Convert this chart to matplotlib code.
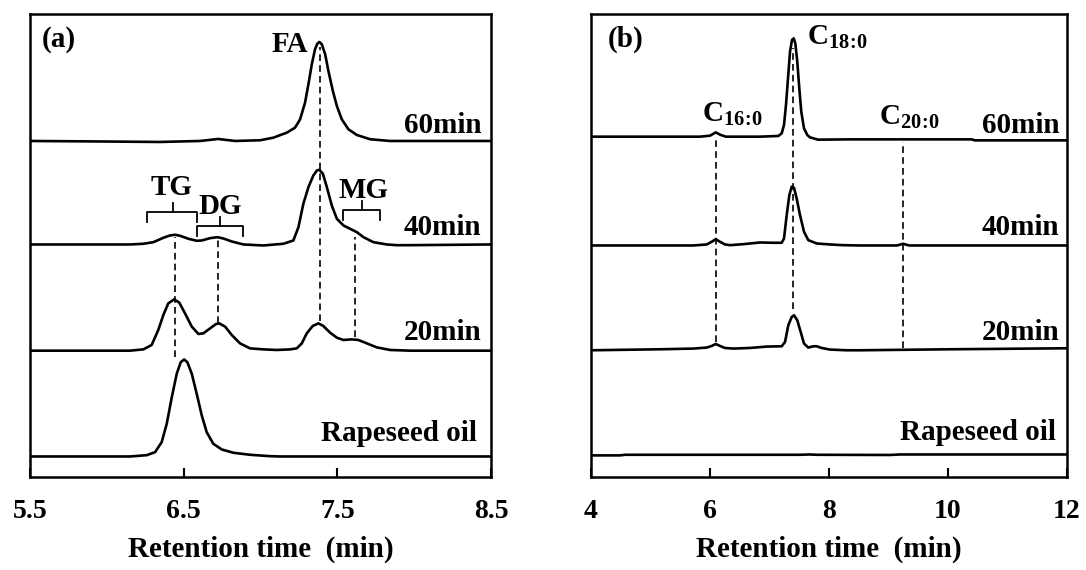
import numpy as np
import matplotlib.pyplot as plt

plt.rcParams['font.family'] = ['Liberation Serif', 'DejaVu Serif']
plt.rcParams['font.weight'] = 'bold'
plt.rcParams['axes.labelweight'] = 'bold'
plt.rcParams['mathtext.fontset'] = 'custom'
plt.rcParams['mathtext.bf'] = 'Liberation Serif:bold'
plt.rcParams['mathtext.rm'] = 'Liberation Serif:bold'
plt.rcParams['mathtext.default'] = 'bf'

# ---- panel (a): lipid classes, retention time (min) vs signal (a.u.) ----
a60_t = [5.5, 5.956, 6.346, 6.607, 6.724, 6.835, 6.997, 7.084, 7.171, 7.225, 7.258, 7.290,
         7.312, 7.334, 7.355, 7.370, 7.383, 7.399, 7.421, 7.442, 7.471, 7.497, 7.529,
         7.572, 7.627, 7.714, 7.844, 8.104, 8.5]
a60_y = [0, -0.5, -1, 0, 2, 0, 0.7, 3.3, 8.3, 13.3, 21.7, 38.3, 56.7, 76.7, 91.7, 97.3,
         99, 96.7, 86.7, 70, 50, 35, 21.7, 11.7, 6, 1.7, 0, 0, 0]

a40_t = [5.5, 6.151, 6.238, 6.303, 6.368, 6.411, 6.444, 6.477, 6.531, 6.585, 6.618, 6.672,
         6.719, 6.758, 6.813, 6.889, 7.019, 7.149, 7.214, 7.247, 7.279, 7.312, 7.344,
         7.367, 7.383, 7.406, 7.432, 7.464, 7.497, 7.540, 7.583, 7.627, 7.670, 7.735,
         7.822, 7.887, 7.974, 8.5]
a40_y = [0, 0, 0.7, 2.3, 6.7, 9, 9.7, 8.7, 5.7, 3.7, 4, 6.3, 7.3, 6, 3, 0, -1, 0.7, 4,
         17.3, 40.7, 57.3, 69, 74, 74.7, 70.7, 57.3, 39, 25.7, 19, 15.7, 12.3, 7.3, 2.3,
         0, -0.7, -0.7, 0]

a20_t = [5.5, 6.151, 6.238, 6.292, 6.335, 6.368, 6.400, 6.438, 6.472, 6.509, 6.553, 6.596,
         6.628, 6.672, 6.711, 6.732, 6.770, 6.813, 6.867, 6.932, 7.019, 7.106, 7.193,
         7.236, 7.269, 7.301, 7.340, 7.377, 7.409, 7.453, 7.497, 7.540, 7.594, 7.637,
         7.692, 7.757, 7.844, 7.974, 8.5]
a20_y = [0, 0, 1.3, 5.7, 20.7, 35.7, 47.3, 51.3, 48, 37.3, 24, 16.7, 17.3, 22.3, 26.7,
         27.3, 24, 15.7, 7.3, 2.3, 1.3, 0.7, 1.3, 2.3, 7.3, 17.3, 24.7, 27.3, 24.7, 18,
         13, 10.7, 11.3, 10.7, 7.3, 3.3, 0.7, 0, 0]

a0_t = [5.5, 6.151, 6.260, 6.314, 6.357, 6.390, 6.423, 6.455, 6.481, 6.503, 6.524, 6.553,
        6.585, 6.618, 6.650, 6.693, 6.748, 6.824, 6.932, 7.063, 7.128, 8.5]
a0_y = [0, 0, 1.3, 4.3, 14.3, 32.7, 59.3, 82.7, 94.3, 97, 94.3, 82.7, 62.7, 41, 24.3,
        12.7, 7, 3.7, 1.7, 0.3, 0, 0]

# ---- panel (b): fatty acids ----
b60_t = [4.0, 4.992, 5.832, 6.0, 6.096, 6.180, 6.269, 6.840, 7.148, 7.205, 7.244, 7.277,
         7.311, 7.345, 7.378, 7.407, 7.434, 7.467, 7.501, 7.534, 7.580, 7.635, 7.681,
         7.815, 8.353, 10.4, 10.45, 12.0]
b60_y = [0, 0, 0, 1, 4.3, 1.7, 0, 0, 0.7, 3.3, 11.7, 31.7, 58.3, 85, 96.7, 98.3, 93.3,
         75, 48.3, 25, 8.3, 1.7, -0.7, -3, -2.7, -2.7, -3.7, -3.7]

b40_t = [4.0, 5.160, 5.719, 5.945, 6.029, 6.096, 6.168, 6.252, 6.336, 6.560, 6.840, 7.064,
         7.205, 7.244, 7.289, 7.333, 7.373, 7.412, 7.457, 7.513, 7.580, 7.652, 7.793,
         8.017, 8.240, 8.521, 9.143, 9.244, 9.345, 12.0]
b40_y = [0, 0, 0, 1, 3.7, 6.3, 3.7, 1, 0.3, 1.3, 3, 2.7, 2.7, 7, 30.3, 50.3, 58.7, 57.7,
         47, 30.3, 13.7, 5.3, 2, 1, 0.3, 0, 0, 1.7, 0, 0]

b20_t = [4.0, 5.160, 5.719, 5.945, 6.029, 6.096, 6.168, 6.252, 6.392, 6.672, 6.953, 7.205,
         7.261, 7.316, 7.373, 7.412, 7.467, 7.524, 7.580, 7.652, 7.736, 7.793, 7.877,
         8.017, 8.297, 8.521, 10.034, 12.0]
b20_y = [-1, 0, 0.7, 1.7, 3.3, 5.3, 3.3, 1.3, 0.7, 1.3, 2.7, 3, 7.3, 24, 32.3, 34, 29,
         17.3, 5.7, 1.7, 3, 3, 1.3, -0.3, -1, -1, 0, 1]

b0_t = [4.0, 4.487, 4.571, 7.513, 7.681, 7.782, 9.025, 9.193, 12.0]
b0_y = [-0.4, -0.4, 0.2, 0.2, 0.5, 0.2, 0, 0.5, 0.5]

# trace baselines (stack offsets) and sample names
names = ['60min', '40min', '20min', 'Rapeseed oil']
a_offsets = [336, 232.5, 126.3, 20.5]
b_offsets = [340.3, 231.5, 127.7, 22]

# peak marker lines: (time, top, bottom)
a_marks = [(7.39, 430, 156), (6.444, 240, 120), (6.726, 239, 154), (7.616, 240, 140)]
b_marks = [(6.10, 339, 135), (7.40, 429, 168), (9.25, 335, 129)]

# brackets: (start, end, centre, level)
a_brackets = [(6.260, 6.585, 6.429, 265.3), (6.589, 6.889, 6.737, 251.3),
              (7.540, 7.779, 7.659, 267)]

fig = plt.figure(figsize=(10.86, 5.70), dpi=100)
ax1 = fig.add_axes([0.0276, 0.1632, 0.4245, 0.8123])
ax2 = fig.add_axes([0.5442, 0.1632, 0.4383, 0.8123])

a_traces = [(a60_t, a60_y), (a40_t, a40_y), (a20_t, a20_y), (a0_t, a0_y)]
b_traces = [(b60_t, b60_y), (b40_t, b40_y), (b20_t, b20_y), (b0_t, b0_y)]

for (t, y), off in zip(a_traces, a_offsets):
    ax1.plot(t, np.array(y) + off, color='black', lw=1.9, solid_joinstyle='round')
for (t, y), off in zip(b_traces, b_offsets):
    ax2.plot(t, np.array(y) + off, color='black', lw=1.9, solid_joinstyle='round')

for x, y0, y1 in a_marks:
    ax1.plot([x, x], [y1, y0], color='black', lw=1.2, ls=(0, (4, 2.5)))
for x, y0, y1 in b_marks:
    ax2.plot([x, x], [y1, y0], color='black', lw=1.2, ls=(0, (4, 2.5)))

for x0, x1, xc, lev in a_brackets:
    ax1.plot([x0, x0, x1, x1], [lev - 10, lev, lev, lev - 10], color='black', lw=1.3)
    ax1.plot([xc, xc], [lev, lev + 9], color='black', lw=1.3)

fs = 21
# sample labels
a_lab_y = [344, 242, 137, 36]
for name, yy in zip(names, a_lab_y):
    xx = 8.436 if name != 'Rapeseed oil' else 8.408
    ax1.text(xx, yy, name, ha='right', va='baseline', fontsize=fs)
b_lab_y = [344, 242, 137, 37]
for name, yy in zip(names, b_lab_y):
    xx = 11.877 if name != 'Rapeseed oil' else 11.815
    ax2.text(xx, yy, name, ha='right', va='baseline', fontsize=fs)

ax1.text(5.578, 430, '(a)', ha='left', va='baseline', fontsize=fs)
ax2.text(4.277, 430, '(b)', ha='left', va='baseline', fontsize=fs)

ax1.text(7.312, 425, 'FA', ha='right', va='baseline', fontsize=fs)
ax1.text(6.422, 282, 'TG', ha='center', va='baseline', fontsize=fs)
ax1.text(6.737, 263, 'DG', ha='center', va='baseline', fontsize=fs)
ax1.text(7.670, 279, 'MG', ha='center', va='baseline', fontsize=fs)

ax2.text(5.866, 355, r'C$_{16\!:\!0}$', ha='left', va='baseline', fontsize=fs)
ax2.text(7.627, 432, r'C$_{18\!:\!0}$', ha='left', va='baseline', fontsize=fs)
ax2.text(8.840, 352, r'C$_{20\!:\!0}$', ha='left', va='baseline', fontsize=fs)

for ax, lim, ticks in [(ax1, (5.5, 8.5), [5.5, 6.5, 7.5, 8.5]),
                       (ax2, (4, 12), [4, 6, 8, 10, 12])]:
    ax.set_xlim(*lim)
    ax.set_ylim(0, 463)
    ax.set_xticks(ticks)
    ax.set_xticklabels([('%g' % v) if v % 1 == 0 else ('%.1f' % v) for v in ticks])
    ax.set_yticks([])
    ax.tick_params(axis='x', direction='in', length=6.5, width=1.5,
                   labelsize=20, pad=16)
    for s in ax.spines.values():
        s.set_linewidth(1.8)
    ax.set_xlabel('Retention time  (min)', fontsize=fs, labelpad=8)

fig.savefig('out.png', dpi=100)
